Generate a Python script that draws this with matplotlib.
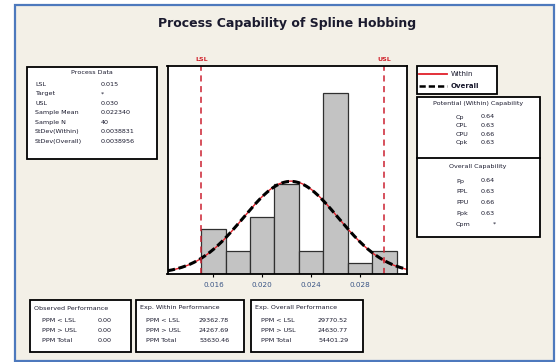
import math
import matplotlib
matplotlib.use("Agg")
import matplotlib.pyplot as plt
from matplotlib.patches import Rectangle
from matplotlib.lines import Line2D

# histogram of the hobbing measurements
bin_centers = [0.016, 0.018, 0.020, 0.022, 0.024, 0.026, 0.028, 0.030]
bin_counts = [4, 2, 5, 8, 2, 16, 1, 2]
bin_width = 0.002

lsl = 0.015
usl = 0.030
sample_mean = 0.02234
sample_n = 40
sd_within = 0.0038831
sd_overall = 0.0038956

tick_values = [0.016, 0.020, 0.024, 0.028]
tick_labels = ["0.016", "0.020", "0.024", "0.028"]

W, H = 557, 362
BG = "#f3f0e7"
TXT = "#1a1a2e"
FS = 4.6


def fx(x):
    return x / W


def fy(y):
    return 1 - y / H


def box(fig, x0, y0, x1, y1, lw=1.3):
    fig.patches.append(Rectangle((fx(x0), fy(y1)), (x1 - x0) / W, (y1 - y0) / H,
                                 transform=fig.transFigure, facecolor="white",
                                 edgecolor="black", lw=lw, zorder=2))


def put(fig, x, y, s, **kw):
    kw.setdefault("fontsize", FS)
    kw.setdefault("color", TXT)
    fig.text(fx(x), fy(y), s, va="center", zorder=3, **kw)


def norm_cdf(z):
    return 0.5 * (1 + math.erf(z / math.sqrt(2)))


def norm_pdf(x, mu, sd):
    return math.exp(-0.5 * ((x - mu) / sd) ** 2) / (sd * math.sqrt(2 * math.pi))


fig = plt.figure(figsize=(W / 100, H / 100), dpi=100)
fig.patch.set_facecolor("white")
fig.patches.append(Rectangle((fx(15), fy(361)), 539 / W, 356 / H, transform=fig.transFigure,
                             facecolor=BG, edgecolor="#4d79bd", lw=1.6, zorder=-5))

fig.text(fx(287), fy(24), "Process Capability of Spline Hobbing", ha="center", va="center",
         fontsize=9, fontweight="bold", color=TXT)

# main histogram panel
ax = fig.add_axes([fx(167.5), fy(274), 239.5 / W, 208 / H])
ax.set_zorder(1)
ax.bar(bin_centers, bin_counts, width=bin_width, color="#c3c3c3", edgecolor="#303030", lw=0.9)
xs = [0.01224 + i * (0.03186 - 0.01224) / 300 for i in range(301)]
scale = sample_n * bin_width
ax.plot(xs, [scale * norm_pdf(x, sample_mean, sd_within) for x in xs], color="#e0202a", lw=1.0)
ax.plot(xs, [scale * norm_pdf(x, sample_mean, sd_overall) for x in xs], color="black", lw=2.2,
        dashes=(2.5, 1.2))
for lim in (lsl, usl):
    ax.axvline(lim, color="#cc2030", lw=1.1, ls=(0, (4, 3)))
    ax.text(lim, 18.75, "LSL" if lim == lsl else "USL", ha="center", va="bottom",
            fontsize=4.5, color="#d0202a", fontweight="bold", clip_on=False)
ax.set_xlim(0.01224, 0.03186)
ax.set_ylim(0, 18.4)
ax.set_yticks([])
ax.set_xticks(tick_values)
ax.set_xticklabels(tick_labels, fontsize=5.2, color="#3a5585")
ax.tick_params(axis="x", length=2, width=0.8, pad=4)
for s in ax.spines.values():
    s.set_linewidth(1.3)

# process data
box(fig, 27, 67, 157, 159)
put(fig, 92, 73, "Process Data", ha="center")
pd_rows = [("LSL", "%.3f" % lsl), ("Target", "*"), ("USL", "%.3f" % usl),
           ("Sample Mean", "%.6f" % sample_mean), ("Sample N", "%d" % sample_n),
           ("StDev(Within)", "%.7f" % sd_within), ("StDev(Overall)", "%.7f" % sd_overall)]
for i, (k, v) in enumerate(pd_rows):
    y = 84 + i * 9.6
    put(fig, 35, y, k)
    put(fig, 101, y, v)

# legend
box(fig, 417, 66, 497, 94)
fig.lines.append(Line2D([fx(419), fx(447)], [fy(74), fy(74)], transform=fig.transFigure,
                        color="#e0202a", lw=1.3, zorder=3))
fig.lines.append(Line2D([fx(419), fx(447)], [fy(86), fy(86)], transform=fig.transFigure,
                        color="black", lw=1.8, dashes=(2.5, 1.2), zorder=3))
put(fig, 451, 74, "Within", fontsize=5)
put(fig, 451, 86, "Overall", fontsize=5, fontweight="bold")

# capability indices
cp = (usl - lsl) / (6 * sd_within)
cpl = (sample_mean - lsl) / (3 * sd_within)
cpu = (usl - sample_mean) / (3 * sd_within)
pp = (usl - lsl) / (6 * sd_overall)
ppl = (sample_mean - lsl) / (3 * sd_overall)
ppu = (usl - sample_mean) / (3 * sd_overall)

box(fig, 417, 97, 540, 237)
fig.lines.append(Line2D([fx(417), fx(540)], [fy(158), fy(158)], transform=fig.transFigure,
                        color="black", lw=1.3, zorder=3))
put(fig, 478, 103, "Potential (Within) Capability", ha="center")
for i, (k, v) in enumerate([("Cp", cp), ("CPL", cpl), ("CPU", cpu), ("Cpk", min(cpl, cpu))]):
    y = 117 + i * 8.6
    put(fig, 456, y, k)
    put(fig, 481, y, "%.2f" % v)
put(fig, 478, 166, "Overall Capability", ha="center")
for i, (k, v) in enumerate([("Pp", "%.2f" % pp), ("PPL", "%.2f" % ppl), ("PPU", "%.2f" % ppu),
                            ("Ppk", "%.2f" % min(ppl, ppu)), ("Cpm", "*")]):
    y = 181 + i * 10.8
    put(fig, 456, y, k)
    put(fig, 496 if v == "*" else 481, y, v, ha="right" if v == "*" else "left")

# performance tables
exp_w = [1e6 * norm_cdf((lsl - sample_mean) / sd_within),
         1e6 * (1 - norm_cdf((usl - sample_mean) / sd_within))]
exp_o = [1e6 * norm_cdf((lsl - sample_mean) / sd_overall),
         1e6 * (1 - norm_cdf((usl - sample_mean) / sd_overall))]
observed = [0.0, 0.0]
tables = [
    (30, 131, "Observed Performance", observed, 42, 98),
    (136, 244, "Exp. Within Performance", exp_w, 146, 199),
    (251, 363, "Exp. Overall Performance", exp_o, 261, 318),
]
row_labels = ["PPM < LSL", "PPM > USL", "PPM Total"]
for x0, x1, title, vals, lx, vx in tables:
    box(fig, x0, 300, x1, 352)
    put(fig, x0 + 4, 308, title)
    for j, (lab, val) in enumerate(zip(row_labels, vals + [sum(vals)])):
        y = 320 + j * 10.5
        put(fig, lx, y, lab)
        put(fig, vx, y, "%.2f" % val)

fig.savefig("out.png", dpi=100, facecolor=fig.get_facecolor())
